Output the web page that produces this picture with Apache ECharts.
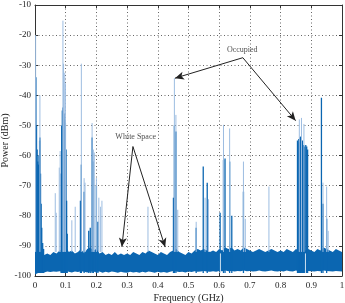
<!DOCTYPE html>
<html>
<head>
<meta charset="utf-8">
<script src="https://cdn.jsdelivr.net/npm/echarts@6/dist/echarts.min.js"></script>
<style>
  html, body { margin: 0; padding: 0; background: #fff; }
  #chart { width: 345px; height: 303px; }
</style>
</head>
<body>
<div id="chart"></div>
<script>
// noise floor, one value every 0.01 GHz
var noiseFreq = [];
for (var k = 0; k <= 100; k++) noiseFreq.push(k / 100);
var noiseHigh = [
  -88, -91, -92, -93, -92.5, -93, -92, -92.5, -91.5, -91,
  -90, -92, -91.5, -92.5, -92, -91, -92.5, -91, -90.5, -91.5,
  -91, -92.5, -92, -93, -92.5, -93, -92, -93, -92.5, -93,
  -92.5, -93, -92, -92.5, -93, -92, -92.5, -91.5, -92, -92.5,
  -93, -92, -92.5, -93, -92, -91.5, -91, -92, -92.5, -93,
  -92, -92.5, -91.5, -91, -91.5, -91, -91.5, -92, -91.5, -92,
  -91, -91.5, -90.5, -91, -90.5, -91.5, -91, -91.5, -90.5, -91,
  -91.5, -92, -91.5, -91, -91.5, -92, -91.5, -91, -91.5, -92,
  -91.5, -92, -91, -91.5, -92, -91, -91.5, -91, -91.5, -91,
  -91.5, -92, -91, -91.5, -90.5, -91, -91.5, -92, -91, -91.5, -92
];
var noiseLow = [
  -99.5, -99, -98.5, -98.8, -98.5, -98.7, -98.5, -98.6, -98.4, -98.7,
  -98.2, -98.6, -98.8, -98.5, -98.7, -98.4, -98.6, -98.8, -98.5, -98.6,
  -98.7, -98.5, -98.9, -98.6, -98.8, -98.5, -98.7, -98.9, -98.6, -98.8,
  -98.9, -98.6, -98.8, -98.7, -98.9, -98.6, -98.8, -98.5, -98.7, -98.9,
  -98.6, -98.8, -98.7, -98.9, -98.6, -98.3, -98.5, -98.7, -98.6, -98.8,
  -98.5, -98.7, -98.4, -98.6, -98.5, -98.3, -98.5, -98.6, -98.4, -98.6,
  -98.3, -98.4, -98.2, -98.4, -98.3, -98.5, -98.3, -98.4, -98.2, -98.4,
  -98.3, -98.5, -98.4, -98.2, -98.4, -98.5, -98.3, -98.2, -98.4, -98.5,
  -98.3, -98.5, -98.2, -98.4, -98.5, -98.2, -98.4, -98.3, -98.5, -98.3,
  -98.4, -98.5, -98.3, -98.4, -98.2, -98.3, -98.4, -98.5, -98.3, -98.4, -98.5
];

// strong (dark) signal lines
var darkFreq = [0.003, 0.005, 0.007, 0.009, 0.011, 0.013, 0.015, 0.016, 0.018, 0.020, 0.022, 0.025, 0.028,
  0.085, 0.087, 0.089, 0.091, 0.093, 0.095, 0.097, 0.099, 0.101, 0.103, 0.105,
  0.148, 0.151, 0.160, 0.175, 0.180, 0.186, 0.190, 0.200, 0.205,
  0.451, 0.454, 0.459, 0.525, 0.548, 0.561, 0.603, 0.614, 0.619, 0.634, 0.641, 0.679,
  0.855, 0.857, 0.859, 0.861, 0.863, 0.865, 0.867, 0.869, 0.871, 0.873, 0.875, 0.878, 0.882, 0.885, 0.888,
  0.933, 0.938, 0.950];
var darkTop = [-34, -50, -58, -62, -63, -60, -55, -54, -66, -76, -84, -89, -91,
  -66, -50, -45, -44, -47, -46, -48, -49, -58, -75, -86,
  -75, -63, -72, -85, -84, -54, -62, -70, -82,
  -74, -50, -52, -84, -63.6, -69, -79, -61.5, -61, -62, -80, -72,
  -55, -56, -54.5, -55.5, -54, -53.7, -54, -56, -55, -57, -56.5, -57, -56.5, -57, -58,
  -40.8, -76, -81];

// weak (light) signal lines
var lightFreq = [0.002, 0.016, 0.066, 0.069, 0.079, 0.082, 0.091, 0.093, 0.097, 0.099,
  0.120, 0.131, 0.151, 0.160, 0.163, 0.186, 0.190, 0.193, 0.200, 0.208, 0.213, 0.218,
  0.368, 0.454, 0.459, 0.465, 0.525, 0.554, 0.565, 0.614, 0.634, 0.679, 0.685, 0.762,
  0.861, 0.868, 0.876, 0.938, 0.950, 0.955];
var lightTop = [-20, -40, -72.5, -79, -64, -58.5, -15.2, -29.5, -32.5, -36,
  -81.5, -77, -29.5, -67.5, -69, -49.2, -58, -59, -67.5, -74, -77, -75,
  -77, -34.3, -46.5, -78, -82, -74, -74.5, -49.8, -51, -62, -81, -70.3,
  -48, -47.5, -49.5, -69, -70.3, -85];

// short dropouts in the noise floor
var gapFreq = [0.604, 0.881];
var gapLow = [-99.6, -99.6];
var gapHigh = [-92.5, -92.5];

var xTicks = [0, 0.1, 0.2, 0.3, 0.4, 0.5, 0.6, 0.7, 0.8, 0.9, 1];
var yTicks = [-100, -90, -80, -70, -60, -50, -40, -30, -20, -10];

// annotations
var labelTexts = ['Occupied', 'White Space'];
var labelPos = [[0.675, -24.9], [0.328, -53.8]];
var arrowFrom = [[0.677, -27.5], [0.677, -27.5], [0.319, -57.0], [0.319, -57.0]];
var arrowTo = [[0.456, -34.3], [0.849, -48.4], [0.283, -90.3], [0.424, -90.4]];

var darkBlue = '#0b66b1';
var lightBlue = '#9dbde1';
var serif = "'Liberation Serif', 'Times New Roman', serif";

function lineSeries(freq, lo, hi, color, width) {
  var data = [];
  for (var i = 0; i < freq.length; i++) data.push([freq[i], lo[i], hi[i]]);
  return {
    type: 'custom',
    data: data,
    silent: true,
    clip: true,
    renderItem: function (params, api) {
      var p0 = api.coord([api.value(0), api.value(1)]);
      var p1 = api.coord([api.value(0), api.value(2)]);
      return {
        type: 'line',
        shape: { x1: p0[0], y1: p0[1], x2: p1[0], y2: p1[1] },
        style: { stroke: color, lineWidth: width }
      };
    }
  };
}

function fill(arr, v) {
  var out = [];
  for (var i = 0; i < arr.length; i++) out.push(v);
  return out;
}

var noiseSeries = {
  type: 'custom',
  data: [[0, -100]],
  silent: true,
  clip: true,
  renderItem: function (params, api) {
    var pts = [];
    for (var i = 0; i < noiseFreq.length; i++) pts.push(api.coord([noiseFreq[i], noiseHigh[i]]));
    for (var j = noiseFreq.length - 1; j >= 0; j--) pts.push(api.coord([noiseFreq[j], noiseLow[j]]));
    return { type: 'polygon', shape: { points: pts }, style: { fill: darkBlue } };
  }
};

var arrowData = [];
for (var a = 0; a < arrowFrom.length; a++) {
  arrowData.push([{ coord: arrowFrom[a] }, { coord: arrowTo[a] }]);
}
var textData = [];
for (var t = 0; t < labelTexts.length; t++) {
  textData.push({ value: labelPos[t], name: labelTexts[t] });
}

var axisLineStyle = { color: '#333', width: 1 };

var option = {
  animation: false,
  backgroundColor: '#fff',
  textStyle: { fontFamily: serif, fontSize: 10, color: '#222' },
  grid: { left: 35, right: 3, top: 5, bottom: 27, outerBoundsMode: 'none', containLabel: false },
  xAxis: [{
    type: 'value', min: 0, max: 1, interval: 0.1,
    name: 'Frequency (GHz)', nameLocation: 'middle', nameGap: 17, nameMoveOverlap: false,
    nameTextStyle: { fontFamily: serif, fontSize: 10, color: '#222' },
    axisLine: { onZero: false, lineStyle: axisLineStyle },
    axisTick: { inside: true, length: 3, lineStyle: axisLineStyle },
    axisLabel: {
      fontFamily: serif, fontSize: 9, color: '#222', margin: 5,
      formatter: function (v) { return String(+v.toFixed(1)); }
    },
    splitLine: { show: true, lineStyle: { color: '#666', type: [1, 2.5], width: 1 } }
  }, {
    type: 'value', min: 0, max: 1, interval: 0.1, position: 'top',
    axisLine: { onZero: false, lineStyle: axisLineStyle },
    axisTick: { inside: true, length: 3, lineStyle: axisLineStyle },
    axisLabel: { show: false }, splitLine: { show: false }
  }],
  yAxis: [{
    type: 'value', min: -100, max: -10, interval: 10,
    name: 'Power (dBm)', nameLocation: 'middle', nameGap: 25, nameMoveOverlap: false,
    nameTextStyle: { fontFamily: serif, fontSize: 10, color: '#222' },
    axisLine: { show: true, onZero: false, lineStyle: axisLineStyle },
    axisTick: { show: true, inside: true, length: 3, lineStyle: axisLineStyle },
    axisLabel: { fontFamily: serif, fontSize: 9, color: '#222', margin: 4 },
    splitLine: { show: true, lineStyle: { color: '#666', type: [1, 2.5], width: 1 } }
  }, {
    type: 'value', min: -100, max: -10, interval: 10, position: 'right',
    axisLine: { show: true, onZero: false, lineStyle: axisLineStyle },
    axisTick: { show: true, inside: true, length: 3, lineStyle: axisLineStyle },
    axisLabel: { show: false }, splitLine: { show: false }
  }],
  series: [
    noiseSeries,
    lineSeries(darkFreq, fill(darkFreq, -99), darkTop, darkBlue, 1.3),
    lineSeries(lightFreq, fill(lightFreq, -92), lightTop, lightBlue, 1),
    lineSeries(gapFreq, gapLow, gapHigh, '#ffffff', 0.8),
    {
      type: 'scatter',
      symbolSize: 0,
      silent: true,
      data: textData,
      label: {
        show: true, position: 'inside', formatter: '{b}',
        fontFamily: serif, fontSize: 8, color: '#222'
      },
      markLine: {
        silent: true,
        symbol: ['none', 'arrow'],
        symbolSize: [6, 9],
        label: { show: false },
        lineStyle: { color: '#222', width: 1, type: 'solid' },
        data: arrowData
      }
    }
  ]
};

var chart = echarts.init(document.getElementById('chart'));
chart.setOption(option);
</script>
</body>
</html>
